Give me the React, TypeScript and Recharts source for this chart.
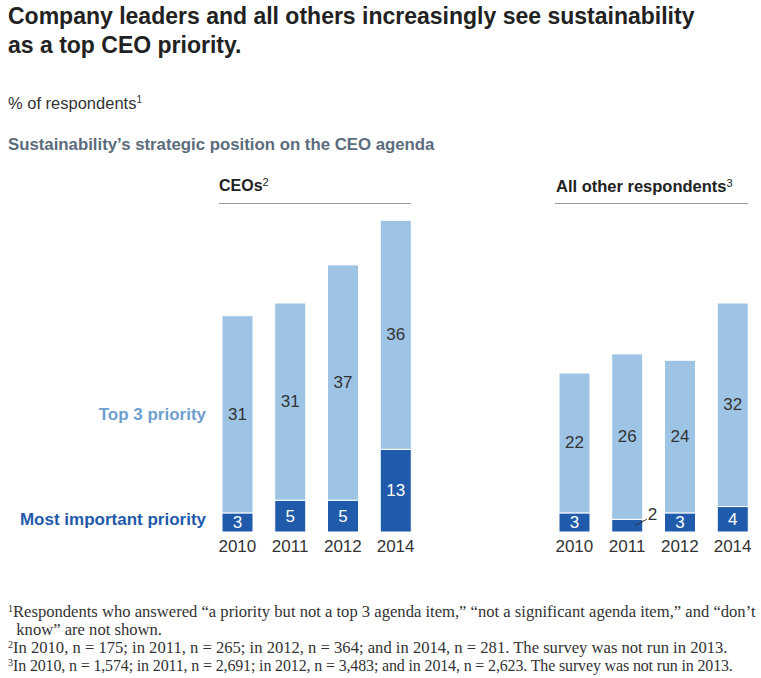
import React from "react";
import { BarChart, Bar, XAxis, YAxis, LabelList } from "recharts";

const years = ["2010", "2011", "2012", "2014"];
const ceoMostImportant = [3, 5, 5, 13];
const ceoTop3 = [31, 31, 37, 36];
const othersMostImportant = [3, 2, 3, 4];
const othersTop3 = [22, 26, 24, 32];

const LIGHT = "#9dc3e5";
const DARK = "#1f5aab";
const SANS = "'Liberation Sans', Arial, sans-serif";
const SERIF = "'Liberation Serif', 'DejaVu Serif', serif";

const build = (most: number[], top: number[]) =>
  years.map((y, i) => ({ year: y, most: most[i], top: top[i] }));

const ceoData = build(ceoMostImportant, ceoTop3);
const othersData = build(othersMostImportant, othersTop3);

const DarkLabel = (props: any) => {
  const { x, y, width, height, value } = props;
  if (height < 16) {
    const sx = x + width * 0.75;
    const sy = y + height * 0.5;
    const ex = x + width + 4;
    const ey = y;
    return (
      <g>
        <line x1={sx} y1={sy} x2={ex} y2={ey} stroke="#333" strokeWidth={1} />
        <text x={ex + 1} y={ey + 1} fill="#333" fontSize={17} fontFamily={SANS}>
          {value}
        </text>
      </g>
    );
  }
  return (
    <text
      x={x + width / 2}
      y={y + height / 2}
      fill="#fff"
      fontSize={17}
      fontFamily={SANS}
      textAnchor="middle"
      dominantBaseline="central"
    >
      {value}
    </text>
  );
};

const LightLabel = (props: any) => {
  const { x, y, width, height, value } = props;
  return (
    <text
      x={x + width / 2}
      y={y + height / 2}
      fill="#333"
      fontSize={17}
      fontFamily={SANS}
      textAnchor="middle"
      dominantBaseline="central"
    >
      {value}
    </text>
  );
};

const Panel = ({ data, left }: { data: any[]; left: number }) => (
  <div style={{ position: "absolute", left, top: 214 }}>
    <BarChart
      width={211}
      height={350}
      data={data}
      margin={{ top: 0, right: 0, bottom: 0, left: 0 }}
      barCategoryGap={0}
    >
      <XAxis
        dataKey="year"
        axisLine={false}
        tickLine={false}
        height={32}
        interval={0}
        tick={{ fill: "#333", fontSize: 17, fontFamily: SANS }}
      />
      <YAxis hide domain={[0, 50]} />
      <Bar dataKey="most" stackId="a" fill={DARK} barSize={31} stroke="#fff" strokeWidth={1} isAnimationActive={false}>
        <LabelList dataKey="most" content={DarkLabel} />
      </Bar>
      <Bar dataKey="top" stackId="a" fill={LIGHT} barSize={31} stroke="#fff" strokeWidth={1} isAnimationActive={false}>
        <LabelList dataKey="top" content={LightLabel} />
      </Bar>
    </BarChart>
  </div>
);

const abs = (s: React.CSSProperties): React.CSSProperties => ({ position: "absolute", whiteSpace: "nowrap", ...s });

const Sup = ({ children, size = 10, top = -6, weight }: { children: React.ReactNode; size?: number; top?: number; weight?: any }) => (
  <span style={{ fontSize: size, position: "relative", top, fontWeight: weight, letterSpacing: 0 }}>{children}</span>
);

const footStyle = (top: number, size = 16.6, ls = 0): React.CSSProperties =>
  abs({ left: 8, top, fontSize: size, letterSpacing: ls, fontFamily: SERIF, color: "#333", lineHeight: "18px" });

export default function App() {
  return (
    <div style={{ position: "absolute", left: 0, top: 0, width: 761, height: 678, background: "#fff", fontFamily: SANS, overflow: "hidden" }}>
      <div style={abs({ left: 8, top: 2, fontSize: 23, fontWeight: "bold", color: "#222", lineHeight: "29px" })}>
        Company leaders and all others increasingly see sustainability
        <br />
        as a top CEO priority.
      </div>
      <div style={abs({ left: 8, top: 94, fontSize: 16.5, color: "#333" })}>
        % of respondents<Sup size={10} top={-6}>1</Sup>
      </div>
      <div style={abs({ left: 8, top: 135, fontSize: 16.8, fontWeight: "bold", color: "#5b6c7c" })}>
        Sustainability’s strategic position on the CEO agenda
      </div>

      <div style={abs({ left: 219, top: 177, fontSize: 16, fontWeight: "bold", color: "#222" })}>
        CEOs<Sup size={11} top={-5} weight="normal">2</Sup>
      </div>
      <div style={abs({ left: 219, top: 203, width: 192, height: 1, background: "#999" })} />
      <div style={abs({ left: 556, top: 177, fontSize: 16.5, fontWeight: "bold", color: "#222" })}>
        All other respondents<Sup size={11} top={-5} weight="normal">3</Sup>
      </div>
      <div style={abs({ left: 555, top: 203, width: 193, height: 1, background: "#999" })} />

      <div style={abs({ right: 761 - 206, top: 405, fontSize: 17, fontWeight: "bold", color: "#6f9fcf" })}>Top 3 priority</div>
      <div style={abs({ right: 761 - 206, top: 510, fontSize: 17, fontWeight: "bold", color: DARK })}>Most important priority</div>

      <Panel data={ceoData} left={211} />
      <Panel data={othersData} left={548} />

      <div style={footStyle(603)}>
        <Sup size={10} top={-5}>1</Sup>Respondents who answered “a priority but not a top 3 agenda item,” “not a significant agenda item,” and “don’t
      </div>
      <div style={footStyle(621)}>&nbsp;&nbsp;know” are not shown.</div>
      <div style={footStyle(639)}>
        <Sup size={10} top={-5}>2</Sup>In 2010, n = 175; in 2011, n = 265; in 2012, n = 364; and in 2014, n = 281. The survey was not run in 2013.
      </div>
      <div style={footStyle(657, 16, -0.15)}>
        <Sup size={10} top={-5}>3</Sup>In 2010, n = 1,574; in 2011, n = 2,691; in 2012, n = 3,483; and in 2014, n = 2,623. The survey was not run in 2013.
      </div>
    </div>
  );
}
